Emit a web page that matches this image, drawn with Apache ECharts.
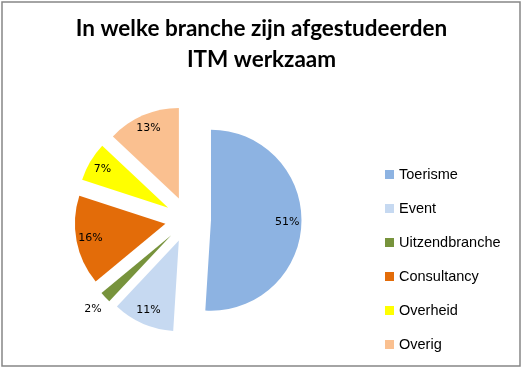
<!DOCTYPE html>
<html>
<head>
<meta charset="utf-8">
<script src="https://cdn.jsdelivr.net/npm/echarts@6/dist/echarts.min.js"></script>
<style>
  html, body { margin: 0; padding: 0; background: #fff; }
  #chart { width: 523px; height: 369px; }
</style>
</head>
<body>
<div id="chart"></div>
<script>
const titleText = 'In welke branche zijn afgestudeerden\nITM werkzaam';
const categories = ['Toerisme', 'Event', 'Uitzendbranche', 'Consultancy', 'Overheid', 'Overig'];
const values = [51, 11, 2, 16, 7, 13];
const colors = ['#8db3e2', '#c6d9f1', '#77933c', '#e36c09', '#ffff00', '#fac090'];
const outsideLabelCats = ['Uitzendbranche'];

const center = [188, 219.5];
const R = 90.5;
const offset = 23;

const mainData = categories.map((c, i) => ({
  name: c, value: values[i], selected: true,
  itemStyle: { color: colors[i] }
}));
const innerLabelData = categories.map((c, i) => ({
  name: c, value: values[i], selected: true,
  label: { show: outsideLabelCats.indexOf(c) < 0 }
}));
const outerLabelData = categories.map((c, i) => ({
  name: c, value: values[i], selected: true,
  label: { show: outsideLabelCats.indexOf(c) >= 0 }
}));

const labelCommon = {
  position: 'inside',
  formatter: '{d}%',
  color: '#000',
  fontFamily: 'DejaVu Sans',
  fontSize: 11
};

const chart = echarts.init(document.getElementById('chart'), null, { renderer: 'canvas' });
chart.setOption({
  animation: false,
  backgroundColor: '#fff',
  graphic: [{
    type: 'rect',
    shape: { x: 2, y: 2, width: 518, height: 364 },
    style: { fill: 'none', stroke: '#868686', lineWidth: 1.5 },
    silent: true
  }],
  title: {
    text: titleText,
    left: 'center',
    top: 13,
    padding: 0,
    textStyle: {
      fontFamily: 'Lato',
      fontWeight: 'bold',
      fontSize: 22.5,
      lineHeight: 31,
      color: '#000'
    }
  },
  legend: {
    orient: 'vertical',
    left: 385,
    top: 167,
    padding: 0,
    itemWidth: 9,
    itemHeight: 9,
    itemGap: 19,
    icon: 'rect',
    data: categories,
    selectedMode: false,
    textStyle: {
      fontFamily: 'Liberation Sans',
      fontSize: 14.5,
      lineHeight: 14,
      color: '#000'
    }
  },
  series: [
    {
      type: 'pie',
      name: 'main',
      center: center,
      radius: [0, R],
      startAngle: 90,
      clockwise: true,
      selectedMode: 'multiple',
      selectedOffset: offset,
      avoidLabelOverlap: false,
      label: { show: false },
      labelLine: { show: false },
      emphasis: { disabled: true },
      select: { itemStyle: { borderWidth: 0 } },
      itemStyle: { borderWidth: 0 },
      data: mainData
    },
    {
      type: 'pie',
      name: 'labelsInner',
      silent: true,
      center: center,
      radius: [56, R],
      startAngle: 90,
      clockwise: true,
      selectedMode: 'multiple',
      selectedOffset: offset,
      avoidLabelOverlap: false,
      label: labelCommon,
      labelLine: { show: false },
      emphasis: { disabled: true },
      itemStyle: { color: 'rgba(0,0,0,0)', borderWidth: 0 },
      select: { itemStyle: { color: 'rgba(0,0,0,0)', borderWidth: 0 } },
      data: innerLabelData
    },
    {
      type: 'pie',
      name: 'labelsOuter',
      silent: true,
      center: center,
      radius: [R, 118],
      startAngle: 90,
      clockwise: true,
      selectedMode: 'multiple',
      selectedOffset: offset,
      avoidLabelOverlap: false,
      label: labelCommon,
      labelLine: { show: false },
      emphasis: { disabled: true },
      itemStyle: { color: 'rgba(0,0,0,0)', borderWidth: 0 },
      select: { itemStyle: { color: 'rgba(0,0,0,0)', borderWidth: 0 } },
      data: outerLabelData
    }
  ]
});
</script>
</body>
</html>
